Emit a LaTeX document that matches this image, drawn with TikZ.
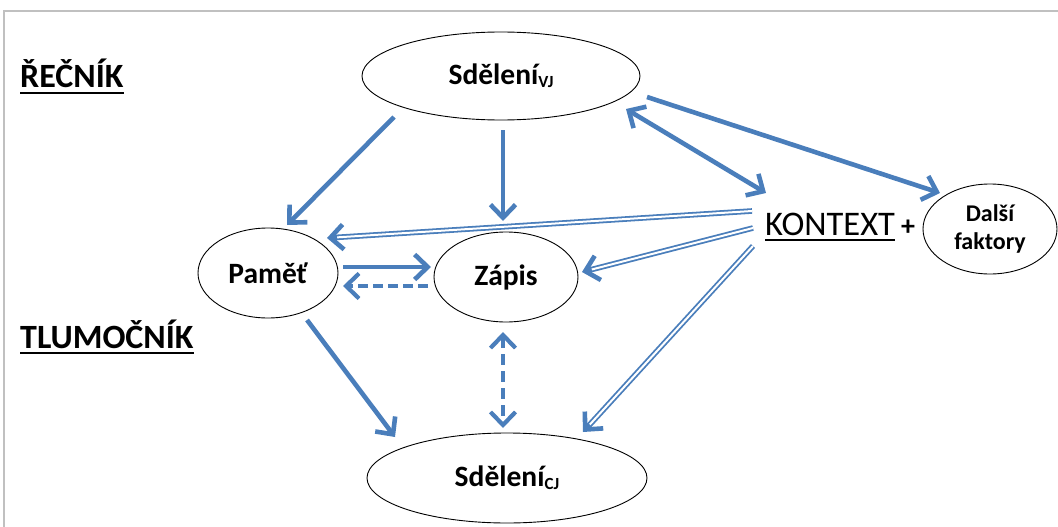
\documentclass[tikz,border=0pt]{standalone}
\usepackage{fontspec}
\setmainfont{Carlito}
\usetikzlibrary{arrows.meta,shapes.geometric,calc}
\definecolor{arr}{HTML}{4A7EBB}
\definecolor{framegray}{HTML}{C0C0C0}
\begin{document}
\begin{tikzpicture}[x=1pt,y=-1pt,
 tipA/.tip={Straight Barb[length=13pt,width=25pt]},
 ell/.style={draw=black, line width=0.9pt, ellipse, inner sep=0pt, font=\bfseries\fontsize{29.5}{31}\selectfont},
 sarr/.style={draw=arr, line width=4.6pt, -tipA},
 barr/.style={draw=arr, line width=4.6pt, tipA-tipA},
 darr/.style={draw=arr, line width=4.2pt, dash pattern=on 10pt off 5pt, -tipA},
 dbarr/.style={draw=arr, line width=4.2pt, dash pattern=on 11pt off 6pt, tipA-tipA},
 dbl/.style={draw=arr, line width=1.8pt, double=white, double distance=2pt, shorten >=5pt},
 lbl/.style={anchor=base west, inner sep=0pt, font=\bfseries\fontsize{34}{36}\selectfont},
 uline/.style={draw=black, line width=2.2pt},
]
\useasboundingbox (0,0) rectangle (1058,527);
\draw[framegray, line width=2pt] (4,527) -- (4,11) -- (1058,11);

\node[ell, minimum width=278pt, minimum height=88pt] (vj) at (501,76) {Sdělení{\fontsize{17}{17}\selectfont\raisebox{-3pt}{VJ}}};
\node[ell, minimum width=140pt, minimum height=90pt] (pam) at (268,273) {Paměť};
\node[ell, minimum width=144pt, minimum height=90pt] (zap) at (506,277) {Zápis};
\node[ell, minimum width=280pt, minimum height=90pt] (cj) at (507,478) {Sdělení{\fontsize{17}{17}\selectfont\raisebox{-3pt}{CJ}}};
\node[ell, minimum width=134pt, minimum height=90pt, align=center, font=\bfseries\fontsize{24}{28}\selectfont] (dal) at (990,229) {Další\\faktory};

\node[lbl] (rec) at (20,88) {ŘEČNÍK};
\node[lbl] (tlu) at (20,348) {TLUMOČNÍK};
\node[lbl, font=\fontsize{34.5}{37}\selectfont] (kon) at (765,235) {KONTEXT};
\node[inner sep=0pt, font=\bfseries\fontsize{28}{30}\selectfont] (plus) at (908,228) {+};

\draw[uline] ([yshift=-5pt]rec.base west) -- ([yshift=-5pt]rec.base east);
\draw[uline] ([yshift=-5pt]tlu.base west) -- ([yshift=-5pt]tlu.base east);
\draw[uline] ([yshift=-5pt]kon.base west) -- ([yshift=-5pt]kon.base east);

% single arrows
\draw[sarr] ([shift={(-107,41)}]vj.center) -- ([shift={(19,-48)}]pam.center);
\draw[sarr] ([shift={(2,54)}]vj.center) -- ([shift={(-3,-56)}]zap.center);
\draw[barr] ([shift={(125,33)}]vj.center) -- ([shift={(1,-42)}]kon.base west);
\draw[sarr] ([shift={(146,21)}]vj.center) -- ([shift={(-50,-36)}]dal.center);
\draw[sarr] ([shift={(75,-6)}]pam.center) -- ([shift={(-75,-10)}]zap.center);
\draw[darr] ([shift={(-78,9)}]zap.center) -- ([shift={(75,13)}]pam.center);
\draw[sarr] ([shift={(39,47)}]pam.center) -- ([shift={(-112,-41)}]cj.center);
\draw[dbarr] ([shift={(-3,55)}]zap.center) -- ([shift={(-4,-50)}]cj.center);

% double arrows from KONTEXT
\coordinate (k1) at ([shift={(-13,-24)}]kon.base west);
\coordinate (k2) at ([shift={(-12,-7)}]kon.base west);
\coordinate (k3) at ([shift={(-12,11)}]kon.base west);
\coordinate (p1) at ([shift={(59,-35)}]pam.center);
\coordinate (z1) at ([shift={(76,-5)}]zap.center);
\coordinate (c1) at ([shift={(76,-46)}]cj.center);
\draw[dbl] (k1) -- (p1);
\draw[sarr] ($(p1)!10pt!(k1)$) -- (p1);
\draw[dbl] (k2) -- (z1);
\draw[sarr] ($(z1)!10pt!(k2)$) -- (z1);
\draw[dbl] (k3) -- (c1);
\draw[sarr] ($(c1)!10pt!(k3)$) -- (c1);
\end{tikzpicture}
\end{document}
